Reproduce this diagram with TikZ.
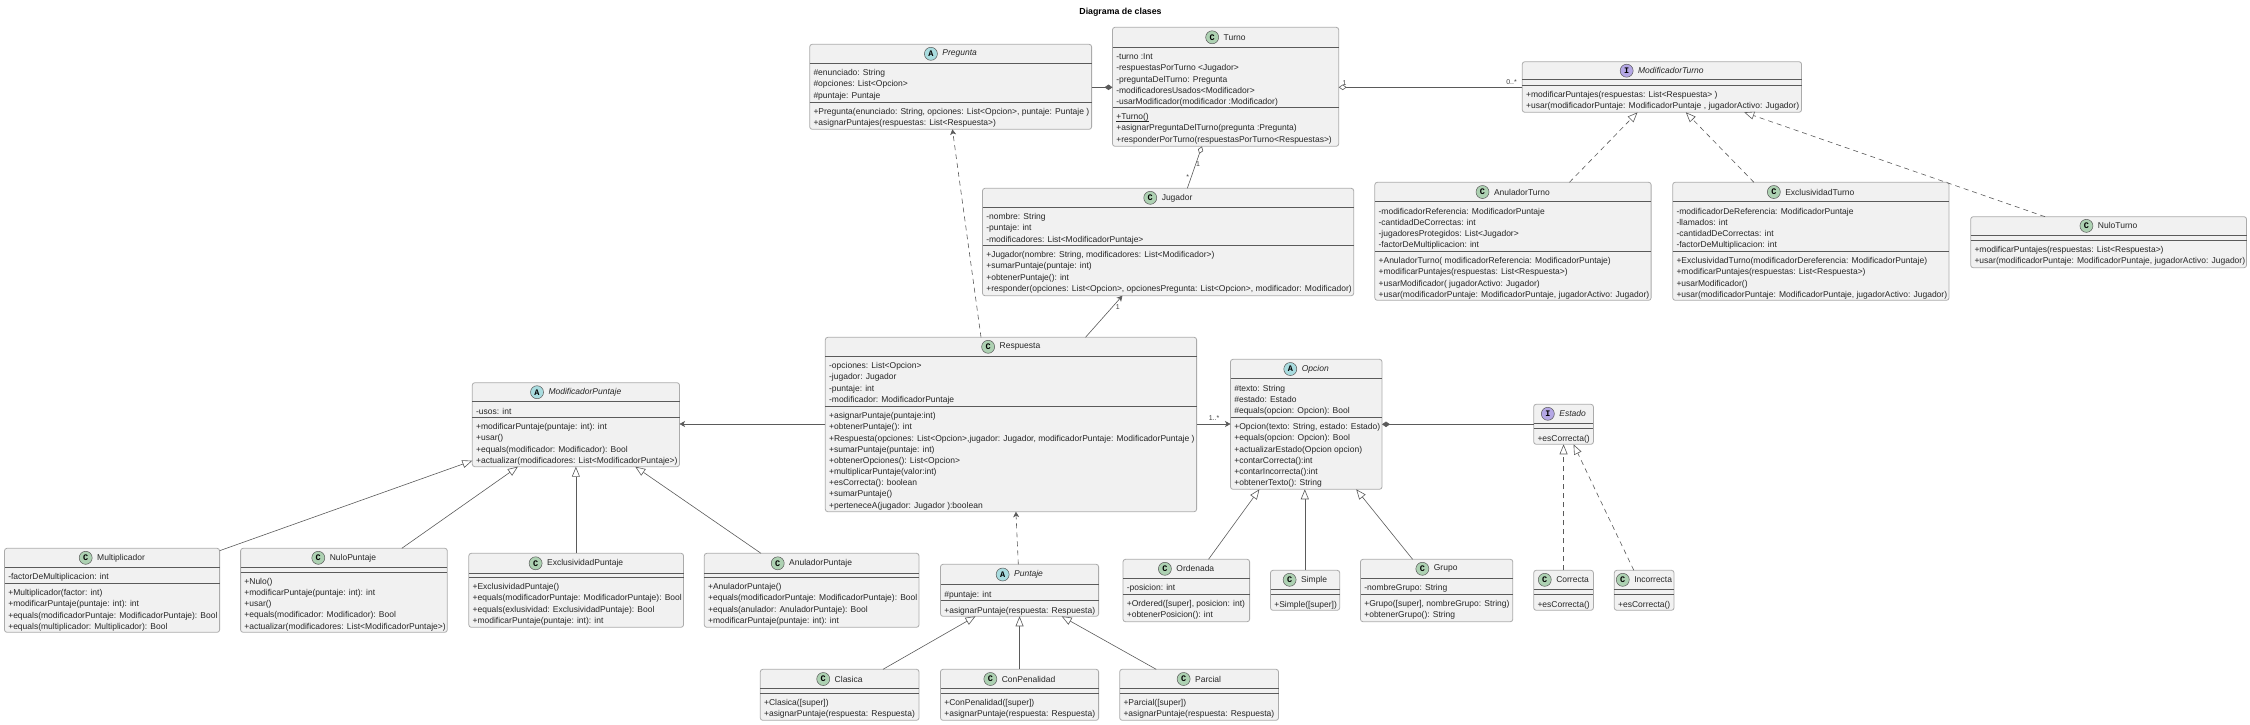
\documentclass[tikz,border=0pt]{standalone}
\usepackage{fontspec}
\setmainfont{Liberation Sans}
\setmonofont{Liberation Mono}
\usepackage{xcolor}
\usepackage{tikz}
\usetikzlibrary{arrows.meta, positioning, fit, calc}
\definecolor{boxfill}{HTML}{F1F1F1}
\definecolor{boxedge}{HTML}{ABABAB}
\definecolor{lineink}{HTML}{5A5A5A}
\definecolor{spotclass}{HTML}{ADD1B2}
\definecolor{spotabstract}{HTML}{A9DCDF}
\definecolor{spotinterface}{HTML}{B4A7E5}

\newcommand{\umlclass}[8]{%
  \node[classbox, fit={(#3)(#4)}] (#2) {};
  \node[title#1] (#2-title) at ($(#2.north)!.5!(#2.north |- 0,#5)$) {\hspace*{18pt}#2};
  \node[spot, spot#1] (#2-spot) at ([xshift=6.7pt]#2-title.west) {#1};
  \draw[sepline] (#2.west |- 0,#5) -- (#2.east |- 0,#5);
  \draw[sepline] (#2.west |- 0,#6) -- (#2.east |- 0,#6);
  \if\relax\detokenize{#7}\relax\else
    \node[members] (#2-attrs) at ([xshift=3.6pt,yshift=-4.4pt]#2.west |- 0,#5) {\strut #7};
  \fi
  \if\relax\detokenize{#8}\relax\else
    \node[members] (#2-methods) at ([xshift=3.6pt,yshift=-4.4pt]#2.west |- 0,#6) {\strut #8};
  \fi
}

\begin{document}
\begin{tikzpicture}[
  x=1pt, y=-1pt,
  classbox/.style={draw=boxedge, fill=boxfill, rounded corners=2.5pt, line width=0.8pt,
                   inner sep=0pt, outer sep=0pt},
  sepline/.style={lineink, line width=0.65pt},
  members/.style={anchor=north west, inner sep=0pt, align=left, text=black!85,
                  font=\fontsize{8.5}{11.17}\selectfont},
  titleC/.style={inner sep=0pt, text=black!85, font=\fontsize{8.5}{11.17}\selectfont},
  titleA/.style={titleC, font=\fontsize{8.5}{11.17}\selectfont\itshape},
  titleI/.style={titleA},
  spot/.style={circle, draw=black!65, line width=0.5pt, minimum size=13pt, inner sep=0pt,
               font=\fontsize{8.5}{9}\selectfont\ttfamily\bfseries},
  spotC/.style={fill=spotclass},
  spotA/.style={fill=spotabstract},
  spotI/.style={fill=spotinterface},
  mult/.style={inner sep=0pt, text=black!75, font=\fontsize{7}{8}\selectfont},
  link/.style={lineink, line width=0.6pt},
  flow/.style={link, -{Stealth[inset=1.5pt, length=5.5pt, width=6pt]}},
  depend/.style={flow, dash pattern=on 5pt off 4pt},
  inherit/.style={link, -{Triangle[open, fill=white, length=10pt, width=8pt]}},
  realize/.style={inherit, dash pattern=on 5pt off 4pt},
  compos/.style={link, -{Diamond[length=8pt, width=5.5pt]}},
  aggreg/.style={link, -{Diamond[open, fill=white, length=8pt, width=5.5pt]}}
]
  \useasboundingbox (0,0) rectangle (2250,724);

  \node[inner sep=0pt, text=black, font=\fontsize{8.8}{10}\selectfont\bfseries] (heading) at (1120.5,12) {Diagrama de clases};

  % turno y pregunta
  \umlclass{A}{Pregunta}{809.7,44.3}{1091.6,129.3}{63.3}{102.3}
    {\#enunciado: String\\\#opciones: List<Opcion>\\\#puntaje: Puntaje}
    {+Pregunta(enunciado: String, opciones: List<Opcion>, puntaje: Puntaje )\\+asignarPuntajes(respuestas: List<Respuesta>)}
  \umlclass{C}{Turno}{1112.5,27.3}{1338.7,146.3}{47.3}{107.3}
    {-turno :Int\\-respuestasPorTurno <Jugador>\\-preguntaDelTurno: Pregunta\\-modificadoresUsados<Modificador>\\-usarModificador(modificador :Modificador)}
    {\underline{\smash{+Turno()}}\\+asignarPreguntaDelTurno(pregunta :Pregunta)\\+responderPorTurno(respuestasPorTurno<Respuestas>)}
  \umlclass{C}{Jugador}{982.5,188.3}{1353.7,295.7}{207.3}{245.3}
    {-nombre: String\\-puntaje: int\\-modificadores: List<ModificadorPuntaje>}
    {+Jugador(nombre: String, modificadores: List<Modificador>)\\+sumarPuntaje(puntaje: int)\\+obtenerPuntaje(): int\\+responder(opciones: List<Opcion>, opcionesPregunta: List<Opcion>, modificador: Modificador)}

  % modificadores de turno
  \umlclass{I}{ModificadorTurno}{1522.3,61.7}{1801.5,112.3}{79.7}{85.3}
    {}
    {+modificarPuntajes(respuestas: List<Respuesta> )\\+usar(modificadorPuntaje: ModificadorPuntaje , jugadorActivo: Jugador)}
  \umlclass{C}{AnuladorTurno}{1374.8,182.3}{1651.1,300.3}{201.7}{251.3}
    {-modificadorReferencia: ModificadorPuntaje\\-cantidadDeCorrectas: int\\-jugadoresProtegidos: List<Jugador>\\-factorDeMultiplicacion: int}
    {+AnuladorTurno( modificadorReferencia: ModificadorPuntaje)\\+modificarPuntajes(respuestas: List<Respuesta>)\\+usarModificador( jugadorActivo: Jugador)\\+usar(modificadorPuntaje: ModificadorPuntaje, jugadorActivo: Jugador)}
  \umlclass{C}{ExclusividadTurno}{1672.7,182.3}{1949,300.3}{201.7}{251.3}
    {-modificadorDeReferencia: ModificadorPuntaje\\-llamados: int\\-cantidadDeCorrectas: int\\-factorDeMultiplicacion: int}
    {+ExclusividadTurno(modificadorDereferencia: ModificadorPuntaje)\\+modificarPuntajes(respuestas: List<Respuesta>)\\+usarModificador()\\+usar(modificadorPuntaje: ModificadorPuntaje, jugadorActivo: Jugador)}
  \umlclass{C}{NuloTurno}{1970.7,216.7}{2246.5,267.7}{235}{240.3}
    {}
    {+modificarPuntajes(respuestas: List<Respuesta>)\\+usar(modificadorPuntaje: ModificadorPuntaje, jugadorActivo: Jugador)}

  % respuesta y opciones
  \umlclass{C}{Respuesta}{825.3,337.3}{1196.6,511.7}{356.3}{406.3}
    {-opciones: List<Opcion>\\-jugador: Jugador\\-puntaje: int\\-modificador: ModificadorPuntaje}
    {+asignarPuntaje(puntaje:int)\\+obtenerPuntaje(): int\\+Respuesta(opciones: List<Opcion>,jugador: Jugador, modificadorPuntaje: ModificadorPuntaje )\\+sumarPuntaje(puntaje: int)\\+obtenerOpciones(): List<Opcion>\\+multiplicarPuntaje(valor:int)\\+esCorrecta(): boolean\\+sumarPuntaje()\\+perteneceA(jugador: Jugador ):boolean}
  \umlclass{A}{Opcion}{1230.5,359.3}{1382,489.3}{378.7}{417.3}
    {\#texto: String\\\#estado: Estado\\\#equals(opcion: Opcion): Bool}
    {+Opcion(texto: String, estado: Estado)\\+equals(opcion: Opcion): Bool\\+actualizarEstado(Opcion opcion)\\+contarCorrecta():int\\+contarIncorrecta():int\\+obtenerTexto(): String}
  \umlclass{C}{Ordenada}{1123,559.3}{1249.6,621.7}{578.3}{594.3}
    {-posicion: int}
    {+Ordered([super], posicion: int)\\+obtenerPosicion(): int}
  \umlclass{C}{Simple}{1270.5,570.3}{1339.7,610.3}{589.3}{594.7}
    {}
    {+Simple([super])}
  \umlclass{C}{Grupo}{1360.5,559.3}{1512.8,621.7}{578.3}{594.3}
    {-nombreGrupo: String}
    {+Grupo([super], nombreGrupo: String)\\+obtenerGrupo(): String}
  \umlclass{I}{Estado}{1533.7,404.3}{1593.4,444.3}{423.3}{428.7}
    {}
    {+esCorrecta()}
  \umlclass{C}{Correcta}{1533.7,570.3}{1593.4,610.3}{589.3}{594.7}
    {}
    {+esCorrecta()}
  \umlclass{C}{Incorrecta}{1614.3,570.3}{1674,610.3}{589.3}{594.7}
    {}
    {+esCorrecta()}

  % modificadores de puntaje
  \umlclass{A}{ModificadorPuntaje}{472.3,382.7}{679.5,466.7}{401.7}{417.3}
    {-usos: int}
    {+modificarPuntaje(puntaje: int): int\\+usar()\\+equals(modificador: Modificador): Bool\\+actualizar(modificadores: List<ModificadorPuntaje>)}
  \umlclass{C}{Multiplicador}{4.5,548.3}{219.6,632.3}{567.3}{583.3}
    {-factorDeMultiplicacion: int}
    {+Multiplicador(factor: int)\\+modificarPuntaje(puntaje: int): int\\+equals(modificadorPuntaje: ModificadorPuntaje): Bool\\+equals(multiplicador: Multiplicador): Bool}
  \umlclass{C}{NuloPuntaje}{240.6,548.3}{447.3,632.3}{567.3}{572}
    {}
    {+Nulo()\\+modificarPuntaje(puntaje: int): int\\+usar()\\+equals(modificador: Modificador): Bool\\+actualizar(modificadores: List<ModificadorPuntaje>)}
  \umlclass{C}{ExclusividadPuntaje}{468.8,553.3}{683.5,627.3}{573.3}{577.3}
    {}
    {+ExclusividadPuntaje()\\+equals(modificadorPuntaje: ModificadorPuntaje): Bool\\+equals(exlusividad: ExclusividadPuntaje): Bool\\+modificarPuntaje(puntaje: int): int}
  \umlclass{C}{AnuladorPuntaje}{704.3,553.3}{919,627.3}{573.3}{577.3}
    {}
    {+AnuladorPuntaje()\\+equals(modificadorPuntaje: ModificadorPuntaje): Bool\\+equals(anulador: AnuladorPuntaje): Bool\\+modificarPuntaje(puntaje: int): int}

  % puntajes
  \umlclass{A}{Puntaje}{940.5,564.3}{1098.6,616.3}{584.7}{600.7}
    {\#puntaje: int}
    {+asignarPuntaje(respuesta: Respuesta)}
  \umlclass{C}{Clasica}{760.3,669.3}{919,720.3}{688.7}{693}
    {}
    {+Clasica([super])\\+asignarPuntaje(respuesta: Respuesta)}
  \umlclass{C}{ConPenalidad}{940.5,669.3}{1098.6,720.3}{688.7}{693}
    {}
    {+ConPenalidad([super])\\+asignarPuntaje(respuesta: Respuesta)}
  \umlclass{C}{Parcial}{1119.7,669.3}{1278.5,720.3}{688.7}{693}
    {}
    {+Parcial([super])\\+asignarPuntaje(respuesta: Respuesta)}

  % relaciones
  \draw[compos] (Pregunta.east |- 0,87.3) -- (Turno.west |- 0,87.3);
  \draw[aggreg] (ModificadorTurno.west |- 0,87.3) -- (Turno.east |- 0,87.3);
  \draw[aggreg] ([xshift=204.8pt]Jugador.north west) -- ([xshift=89.4pt]Turno.south west);
  \draw[depend] ([xshift=155.7pt]Respuesta.north west) -- ([xshift=142.7pt]Pregunta.south west);
  \draw[flow] ([xshift=260.2pt]Respuesta.north west) -- ([xshift=139.9pt]Jugador.south west);
  \draw[flow] (Respuesta.west |- 0,424) -- (ModificadorPuntaje.east |- 0,424);
  \draw[flow] (Respuesta.east |- 0,424) -- (Opcion.west |- 0,424);
  \draw[compos] (Estado.west |- 0,424.3) -- (Opcion.east |- 0,424.3);
  \draw[depend] ([xshift=77.8pt]Puntaje.north west) -- ([xshift=190.6pt]Respuesta.south west);

  \draw[realize] ([xshift=194.6pt]AnuladorTurno.north west) -- ([xshift=115.2pt]ModificadorTurno.south west);
  \draw[realize] ([xshift=81.2pt]ExclusividadTurno.north west) -- ([xshift=163.5pt]ModificadorTurno.south west);
  \draw[realize] ([xshift=74.3pt]NuloTurno.north west) -- ([xshift=221.9pt]ModificadorTurno.south west);
  \draw[realize] (Correcta.north) -- (Estado.south);
  \draw[realize] ([xshift=19.5pt]Incorrecta.north west) -- ([xshift=39.8pt]Estado.south west);

  \draw[inherit] ([xshift=85.5pt]Ordenada.north west) -- ([xshift=28.9pt]Opcion.south west);
  \draw[inherit] ([xshift=34.3pt]Simple.north west) -- ([xshift=74.3pt]Opcion.south west);
  \draw[inherit] ([xshift=52.1pt]Grupo.north west) -- ([xshift=125.7pt]Opcion.south west);
  \draw[inherit] ([yshift=-2.4pt]Multiplicador.north east) -- ([yshift=6pt]ModificadorPuntaje.south west);
  \draw[inherit] ([xshift=161.2pt]NuloPuntaje.north west) -- ([xshift=45.6pt]ModificadorPuntaje.south west);
  \draw[inherit] ([xshift=107.1pt]ExclusividadPuntaje.north west) -- ([xshift=103.6pt]ModificadorPuntaje.south west);
  \draw[inherit] ([xshift=56.7pt]AnuladorPuntaje.north west) -- ([xshift=163pt]ModificadorPuntaje.south west);
  \draw[inherit] ([xshift=122.7pt]Clasica.north west) -- ([xshift=35pt]Puntaje.south west);
  \draw[inherit] (ConPenalidad.north) -- (Puntaje.south);
  \draw[inherit] ([xshift=36.5pt]Parcial.north west) -- ([xshift=121.2pt]Puntaje.south west);

  % multiplicidades
  \node[mult] (multTurnoMod) at (1344.6,82.7) {1};
  \node[mult] (multModTurno) at (1511.5,82.3) {0..*};
  \node[mult] (multTurnoJug) at (1198,164) {1};
  \node[mult] (multJugTurno) at (1187.7,177) {*};
  \node[mult] (multRespJug) at (1117.7,307) {1};
  \node[mult] (multRespOpc) at (1214,417.7) {1..*};
\end{tikzpicture}
\end{document}
